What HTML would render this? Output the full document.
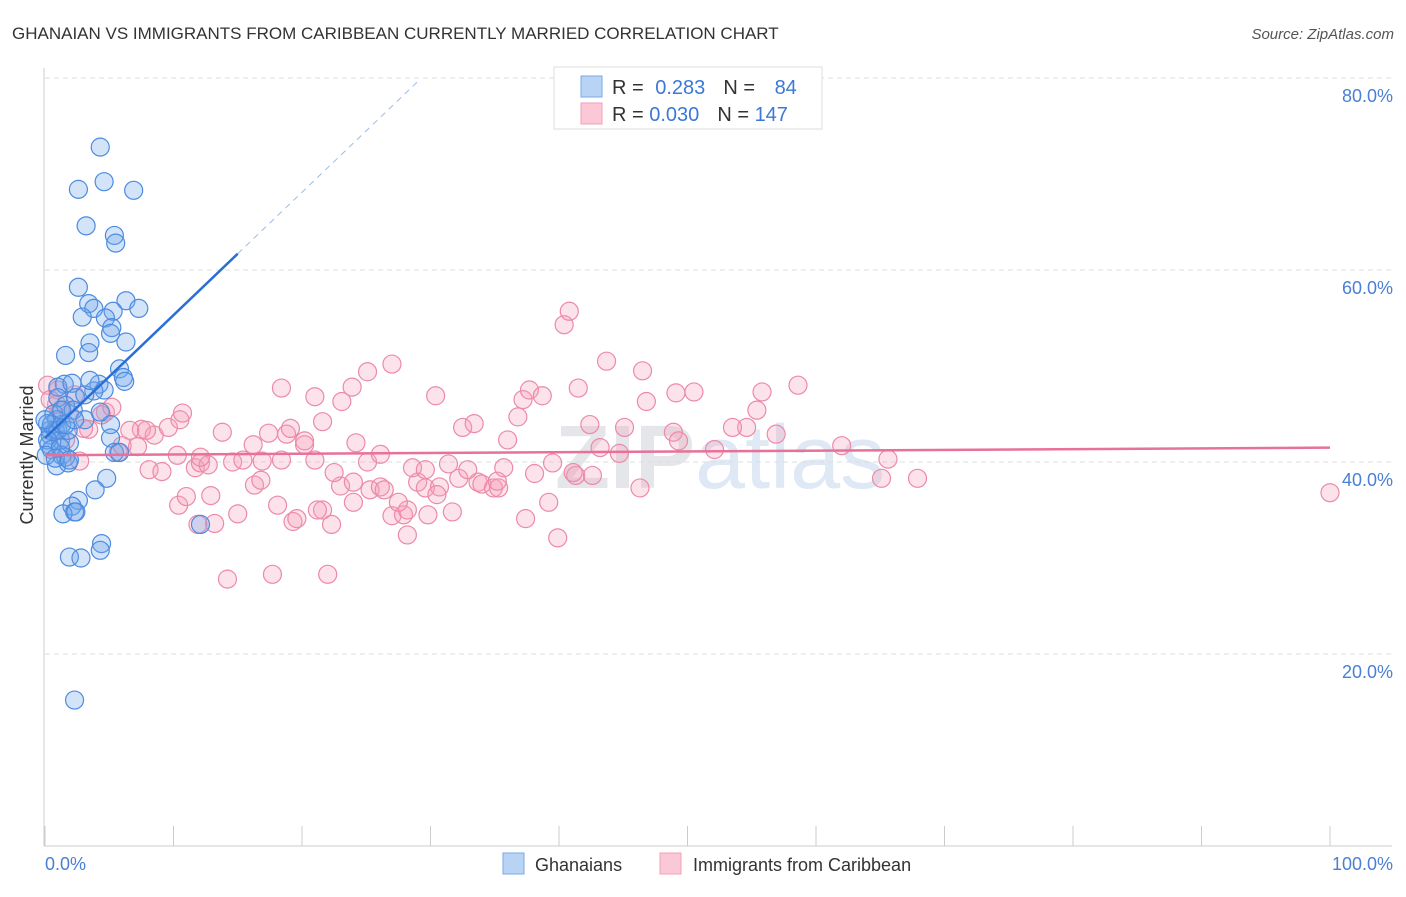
<!DOCTYPE html>
<html><head><meta charset="utf-8"><style>
body{margin:0;background:#fff;font-family:"Liberation Sans",sans-serif}
</style></head><body>
<svg width="1406" height="892" xmlns="http://www.w3.org/2000/svg" font-family="Liberation Sans, sans-serif">
<text x="12" y="39" font-size="17" fill="#333">GHANAIAN VS IMMIGRANTS FROM CARIBBEAN CURRENTLY MARRIED CORRELATION CHART</text>
<text x="1394" y="39" font-size="15" fill="#555" font-style="italic" text-anchor="end">Source: ZipAtlas.com</text>
<text x="555" y="488" font-size="90" fill="#e4e6ea" font-weight="bold">ZIP<tspan fill="#dfe8f5" font-weight="normal">atlas</tspan></text>
<g id="grid"></g>
<g id="axes"></g>
<g id="pts"></g>
<g id="trend"></g>
<text transform="translate(33,455) rotate(-90)" font-size="18" fill="#333" text-anchor="middle">Currently Married</text>
<text x="45" y="870" font-size="18" fill="#4a7fd4">0.0%</text>
<text x="1393" y="870" font-size="18" fill="#4a7fd4" text-anchor="end">100.0%</text>
<g>
<rect x="554" y="67" width="268" height="62" fill="#fff" stroke="#ddd"/>
<rect x="581" y="76" width="21" height="21" fill="#b9d3f5" stroke="#7aa8e8"/>
<rect x="581" y="103" width="21" height="21" fill="#fac8d6" stroke="#f0a0b8"/>
<text x="612" y="94" font-size="20" fill="#333">R = <tspan fill="#3b78d8" dx="6">0.283</tspan><tspan dx="18" fill="#333">N = </tspan><tspan dx="14" fill="#3b78d8">84</tspan></text>
<text x="612" y="121" font-size="20" fill="#333">R = <tspan fill="#3b78d8">0.030</tspan><tspan dx="18" fill="#333">N = </tspan><tspan fill="#3b78d8">147</tspan></text>
</g>
<g>
<rect x="503" y="853" width="21" height="21" fill="#b9d3f5" stroke="#7aa8e8"/>
<text x="535" y="871" font-size="18" fill="#333">Ghanaians</text>
<rect x="660" y="853" width="21" height="21" fill="#fac8d6" stroke="#f0a0b8"/>
<text x="693" y="871" font-size="18" fill="#333">Immigrants from Caribbean</text>
</g>
</svg>
<script>
const yTicks=[20,40,60,80];
const yTickLabels=["20.0%","40.0%","60.0%","80.0%"];
const xTicks=[0,10,20,30,40,50,60,70,80,90,100];
const blueX=[4.3,4.6,2.6,6.9,3.2,5.4,5.5,2.6,3.4,6.3,3.8,7.3,5.3,2.9,4.7,5.2,3.5,5.1,6.3,3.4,1.6,5.8,6.1,6.2,1.5,4.2,1.0,2.1,4.6,3.8,1.0,2.4,1.6,0.7,2.2,0.9,0.2,3.1,5.1,0.4,1.2,0.3,5.1,1.9,5.4,1.3,1.6,0.9,1.8,4.8,3.9,2.6,2.1,2.3,1.4,2.4,4.4,4.3,1.9,2.8,12.1,2.3,0.4,0.8,0.5,1.0,1.3,1.8,0.2,0.5,1.2,1.6,0,0.1,0.8,1.9,5.8,3.1,3.5,2.3,1.3,4.3];
const blueY=[72.8,69.2,68.4,68.3,64.6,63.6,62.8,58.2,56.5,56.8,56.0,56.0,55.7,55.1,55.0,54.0,52.4,53.4,52.5,51.4,51.1,49.7,48.8,48.4,48.1,48.1,47.8,48.2,47.5,47.4,46.7,46.7,45.9,45.0,45.4,44.4,44.0,44.4,43.9,42.8,42.3,41.8,42.5,42.0,41.0,40.7,40.5,39.6,39.9,38.3,37.1,36.0,35.4,34.8,34.6,34.8,31.5,30.8,30.1,30.0,33.5,15.2,43.3,43.3,43.9,43.3,43.9,43.3,42.3,41.3,41.5,43.9,44.4,40.7,40.4,40.2,41.0,47.0,48.5,44.4,45.4,45.2];
const pinkX=[14.2,17.7,22.0,11.9,13.2,15.0,19.3,19.6,22.3,21.6,24.0,27.0,27.9,28.2,29.8,31.7,28.2,37.4,39.9,39.2,10.4,11.0,12.9,16.3,16.8,18.1,21.2,23.0,24.0,25.3,26.1,26.4,27.5,29.0,29.6,30.7,30.5,32.2,33.7,34.0,34.9,35.3,35.2,38.1,41.3,42.6,46.3,65.1,67.9,8.1,9.1,11.7,12.1,12.7,14.6,15.4,16.9,18.4,20.2,21.0,22.5,25.1,28.6,29.6,31.4,32.9,35.7,39.5,41.1,43.2,44.7,48.9,49.3,52.1,54.6,56.9,62.0,65.6,100.0,5.7,6.0,7.2,7.5,8.5,9.6,10.3,12.1,13.8,16.2,17.4,18.8,19.1,20.2,21.6,24.2,26.1,30.4,32.5,33.4,36.0,36.8,37.2,37.7,38.7,41.5,42.4,45.1,46.8,46.5,49.1,50.5,53.5,55.4,55.8,58.6,43.7,40.4,40.8,27.0,25.1,23.9,23.1,21.0,18.4,10.5,10.7,4.7,4.4,5.2,6.6,7.9,3.4,3.0,2.7,0.9,1.0,0.2,0.4,1.2,1.9,1.6,2.3];
const pinkY=[27.8,28.3,28.3,33.5,33.6,34.6,33.8,34.1,33.5,35.0,35.8,34.4,34.5,35.0,34.5,34.8,32.4,34.1,32.1,35.8,35.5,36.4,36.5,37.6,38.1,35.5,35.0,37.5,37.9,37.1,37.4,37.1,35.8,37.9,37.3,37.4,36.6,38.3,37.9,37.7,37.3,37.3,38.0,38.8,38.6,38.6,37.3,38.3,38.3,39.2,39.0,39.4,39.9,39.7,40.0,40.2,40.1,40.2,41.8,40.2,38.9,40.0,39.4,39.2,39.8,39.2,39.4,39.9,38.9,41.5,40.9,43.1,42.2,41.3,43.6,42.9,41.7,40.3,36.8,41.0,41.7,41.6,43.4,42.8,43.6,40.7,40.5,43.1,41.8,43.0,42.9,43.5,42.2,44.2,42.0,40.8,46.9,43.6,44.0,42.3,44.7,46.5,47.5,46.9,47.7,43.9,43.6,46.3,49.5,47.2,47.3,43.6,45.4,47.3,48.0,50.5,54.3,55.7,50.2,49.4,47.8,46.3,46.8,47.7,44.4,45.1,45.2,44.9,45.7,43.3,43.3,43.4,43.5,40.1,46.0,47.5,48.0,46.5,45.4,45.0,42.3,47.0];
const blueTrend=[42.5,1.28]; // intercept, slope
const pinkTrend=[40.7,0.008];
const NS="http://www.w3.org/2000/svg";
const X=v=>45+v*12.85, Y=v=>846-v*9.6;
function mk(p,t,a){const e=document.createElementNS(NS,t);for(const k in a)e.setAttribute(k,a[k]);p.appendChild(e);return e;}
const grid=document.getElementById('grid'),axes=document.getElementById('axes'),pts=document.getElementById('pts'),tr=document.getElementById('trend');
yTicks.forEach((v,i)=>{
 const l=mk(grid,'line',{x1:45,x2:1392,y1:Y(v),y2:Y(v),stroke:'#ddd','stroke-dasharray':'5,4'});
 
 
 const t=mk(axes,'text',{x:1393,y:Y(v)+24,'font-size':18,fill:'#4a7fd4','text-anchor':'end'});
 t.textContent=yTickLabels[i];
 
 
});
mk(axes,'line',{x1:44,x2:44,y1:68,y2:846,stroke:'#ccc'});
mk(axes,'line',{x1:44,x2:1392,y1:846,y2:846,stroke:'#ccc'});
xTicks.forEach(v=>{const l=mk(axes,'line',{x1:X(v),x2:X(v),y1:826,y2:846,stroke:'#ccc'});
 
 });
pinkX.forEach((x,i)=>{const c=mk(pts,'circle',{cx:X(x),cy:Y(pinkY[i]),r:9,fill:'rgba(245,160,185,0.3)',stroke:'#ec8aa8','stroke-width':1.2});
 
 });
blueX.forEach((x,i)=>{const c=mk(pts,'circle',{cx:X(x),cy:Y(blueY[i]),r:9,fill:'rgba(110,165,235,0.3)',stroke:'#4d8be0','stroke-width':1.2});
 
 });
let b=mk(tr,'line',{x1:X(0),y1:Y(blueTrend[0]),x2:X(15),y2:Y(blueTrend[0]+15*blueTrend[1]),stroke:'#2a6fd6','stroke-width':2.5});


let bd=mk(tr,'line',{x1:X(15),y1:Y(blueTrend[0]+15*blueTrend[1]),x2:X(29.2),y2:Y(blueTrend[0]+29.2*blueTrend[1]),stroke:'#9dbbe8','stroke-width':1,'stroke-dasharray':'6,5'});


let p=mk(tr,'line',{x1:X(0),y1:Y(pinkTrend[0]),x2:X(100),y2:Y(pinkTrend[0]+100*pinkTrend[1]),stroke:'#e8719a','stroke-width':2.5});


</script>
</body></html>
